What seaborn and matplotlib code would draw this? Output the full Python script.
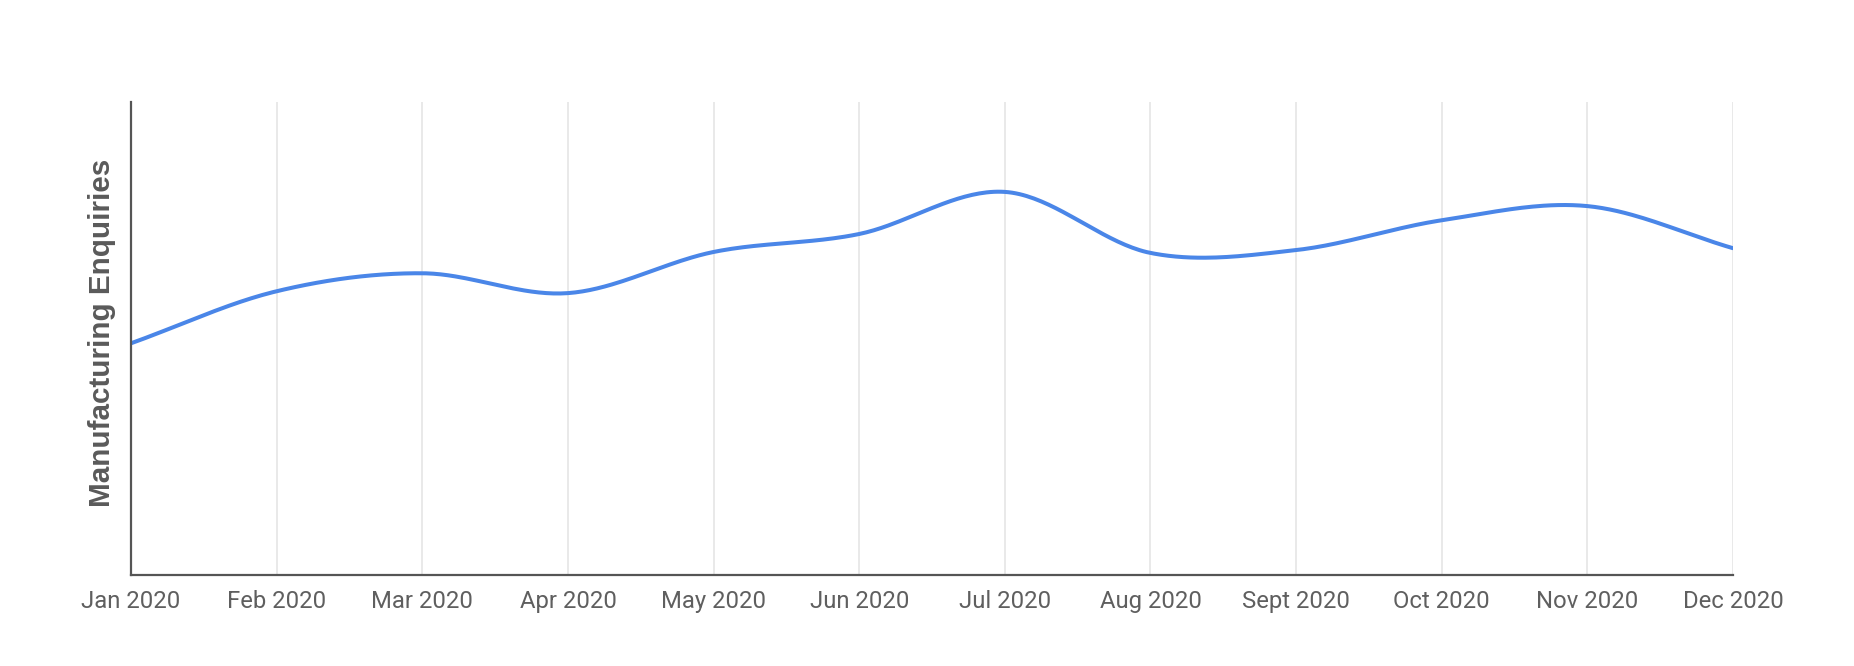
import numpy as np
import pandas as pd
import matplotlib
matplotlib.use("Agg")
import matplotlib.pyplot as plt
import seaborn as sns

months = ["Jan 2020", "Feb 2020", "Mar 2020", "Apr 2020", "May 2020", "Jun 2020",
          "Jul 2020", "Aug 2020", "Sept 2020", "Oct 2020", "Nov 2020", "Dec 2020"]
enquiries = [49.0, 60.0, 63.8, 59.6, 68.3, 72.1, 81.0, 68.1, 68.7, 75.0, 78.0, 69.1]
y_label = "Manufacturing Enquiries"

sns.set_theme(style="white")
plt.rcParams['font.family'] = ['Roboto', 'DejaVu Sans']

# Smooth curve (Catmull-Rom style) through the monthly points
x = np.arange(len(enquiries), dtype=float)
y = np.array(enquiries, dtype=float)
m = np.zeros_like(y)
m[1:-1] = (y[2:] - y[:-2]) / 2.0
m[0] = (y[1] - y[0])
m[-1] = (y[-1] - y[-2])
xs, ys = [], []
for i in range(len(y) - 1):
    t = np.linspace(0, 1, 40, endpoint=(i == len(y) - 2))
    h00 = 2*t**3 - 3*t**2 + 1
    h10 = t**3 - 2*t**2 + t
    h01 = -2*t**3 + 3*t**2
    h11 = t**3 - t**2
    xs.append(x[i] + t)
    ys.append(h00*y[i] + h10*m[i] + h01*y[i+1] + h11*m[i+1])
df = pd.DataFrame({"x": np.concatenate(xs), "y": np.concatenate(ys)})

fig = plt.figure(figsize=(18.54, 6.66), dpi=100)
ax = fig.add_axes([0.0707, 0.1366, 0.8640, 0.7102])
sns.lineplot(data=df, x="x", y="y", ax=ax, color="#4a86e8", linewidth=2.9, sort=False)

ax.set_xlim(0, len(months) - 1)
ax.set_ylim(0, 100)
ax.set_xticks(x)
ax.set_xticklabels(months, fontsize=17.2, color="#5f5f5f")
ax.set_yticks([])
ax.tick_params(axis="x", length=0, pad=11)
ax.grid(axis="x", color="#e3e3e3", linewidth=1.1)
ax.set_axisbelow(True)
for s in ["top", "right"]:
    ax.spines[s].set_visible(False)
for s in ["left", "bottom"]:
    ax.spines[s].set_color("#555555")
    ax.spines[s].set_linewidth(1.6)
ax.set_xlabel("")
ax.set_ylabel(y_label, fontsize=21.3, fontweight="bold", color="#5a5a5a",
              family=["Liberation Sans", "DejaVu Sans"], labelpad=11)
ax.yaxis.label.set_y(0.512)

fig.savefig("out.png", dpi=100, facecolor="white")
